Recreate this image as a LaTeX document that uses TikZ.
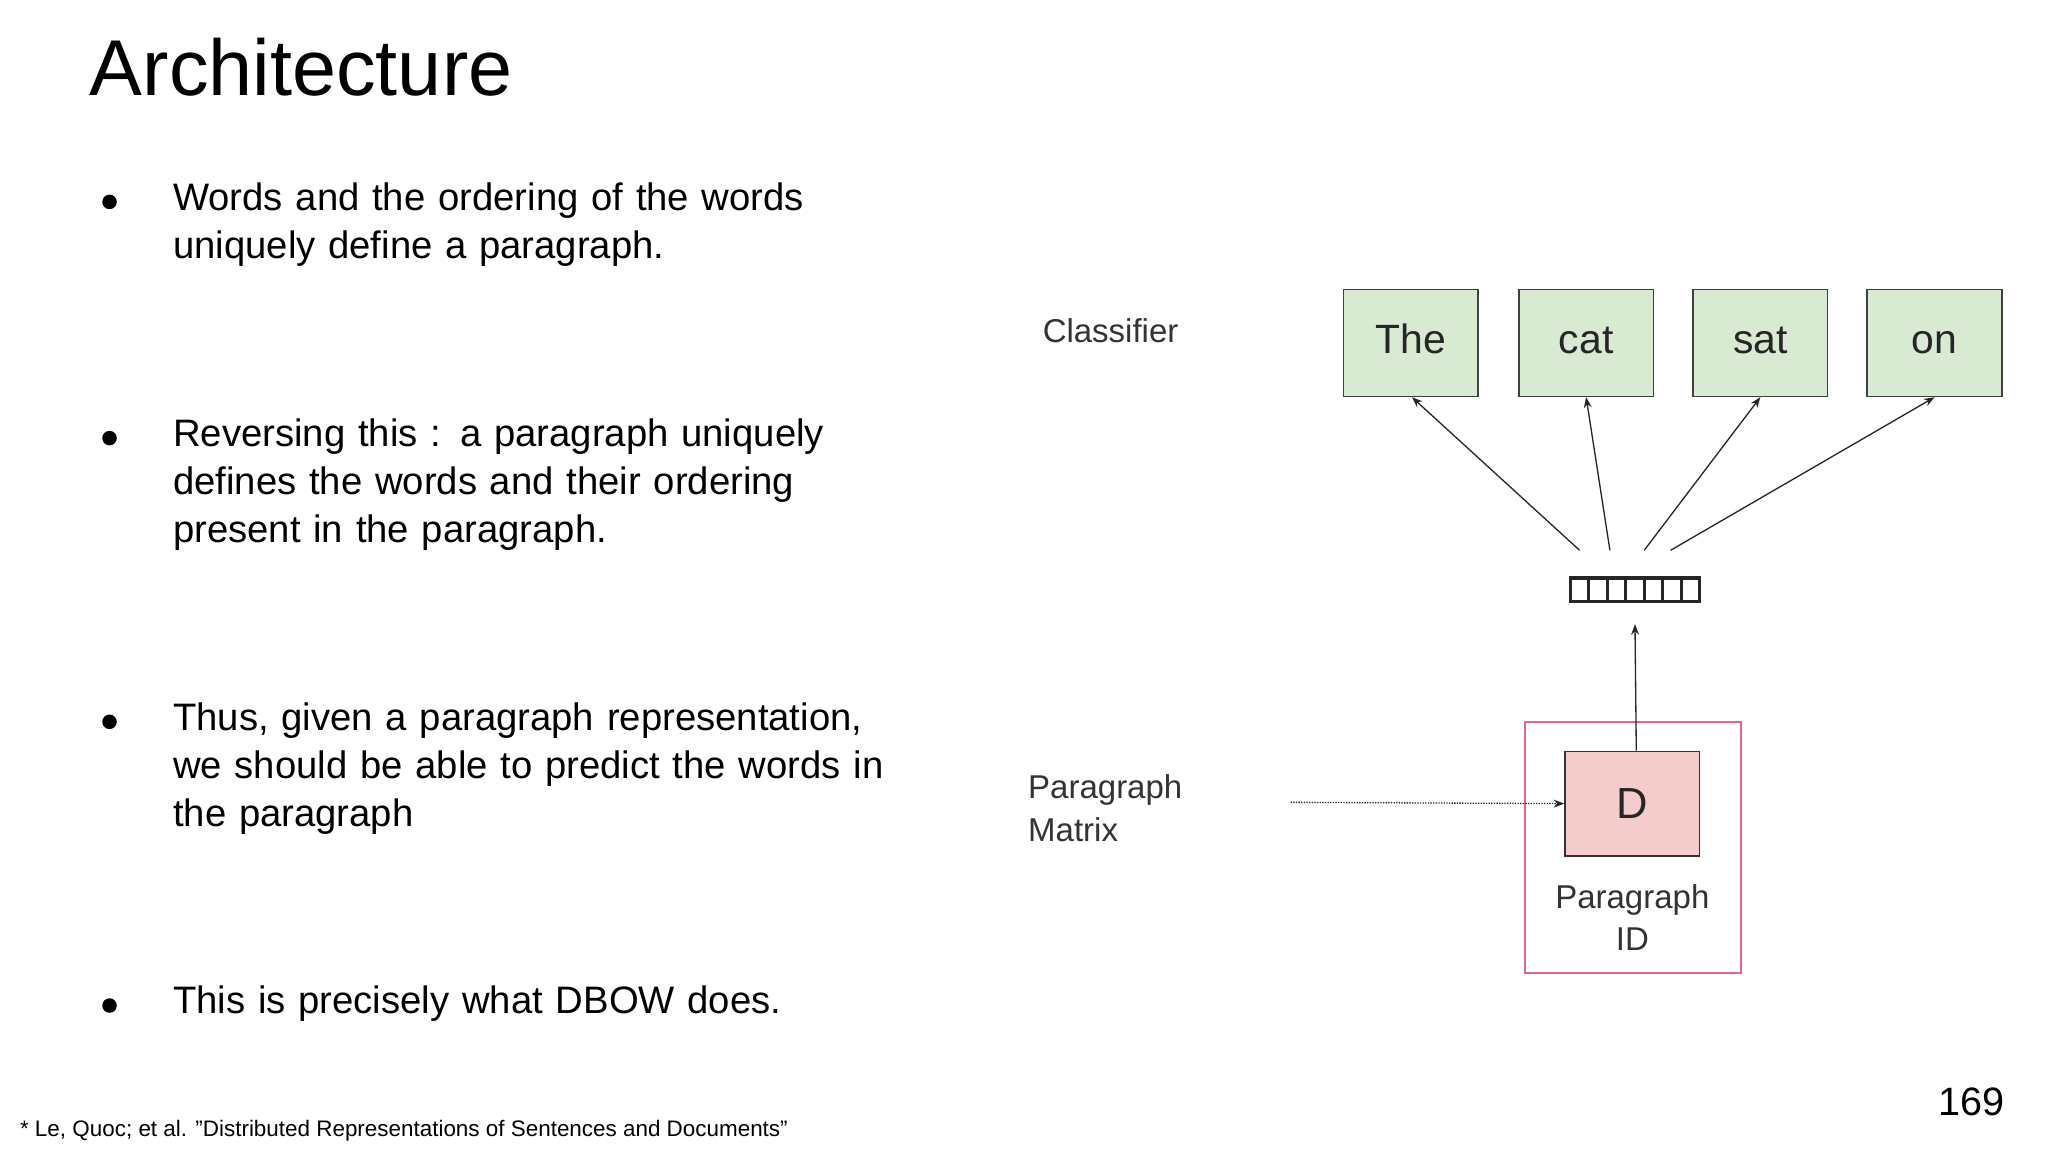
\documentclass[tikz,border=0pt]{standalone}
\usepackage{fontspec}
\setmainfont{Liberation Sans}
\usetikzlibrary{arrows.meta}
\definecolor{gfill}{HTML}{D9EAD3}
\definecolor{pfill}{HTML}{F4CCCC}
\definecolor{pborder}{HTML}{E06690}
\tikzset{
 word/.style={draw=black!75,fill=gfill,line width=1.2pt,minimum width=102pt,minimum height=81pt,font=\fontsize{31}{36}\selectfont,text=black!85,text height=22pt,text depth=6pt},
 lab/.style={font=\fontsize{25}{32}\selectfont,text=black!80,align=left,anchor=north west,inner sep=0},
 bul/.style={font=\fontsize{29}{36.5}\selectfont,align=left,anchor=north west,inner sep=0,text width=600pt},
 arr/.style={-{Stealth[length=8pt,width=6pt]},line width=1pt,black!85}
}
\begin{document}
\begin{tikzpicture}[x=1pt,y=-1pt]
\useasboundingbox[fill=white] (0,0) rectangle (1552,873);
\node[anchor=base west,inner sep=0,font=\fontsize{60}{70}\selectfont] (title) at (68,72) {Architecture};
\foreach \y/\t [count=\i] in {138/{Words and the ordering of the words\\uniquely define a paragraph.},
 317/{Reversing this : a paragraph uniquely\\defines the words and their ordering\\present in the paragraph.},
 532/{Thus, given a paragraph representation,\\we should be able to predict the words in\\the paragraph},
 747/{This is precisely what DBOW does.}}{
 \node[bul] (b\i) at (131,\y) {\t};
 \node[circle,fill=black,inner sep=0,minimum size=11pt] (d\i) at (83,\y+15) {};
}
\node[anchor=base west,inner sep=0,font=\fontsize{17}{20}\selectfont] (foot) at (15,861) {* Le, Quoc; et al. \symbol{34}Distributed Representations of Sentences and Documents\symbol{34}};
\node[anchor=base east,inner sep=0,font=\fontsize{30}{34}\selectfont] (pg) at (1519,845) {169};

\node[lab] (cls) at (790,241) {Classifier};
\node[lab] (pm) at (779,587) {Paragraph\\Matrix};
\node[word] (w1) at (1069,260) {The};
\node[word] (w2) at (1202,260) {cat};
\node[word] (w3) at (1334,260) {sat};
\node[word] (w4) at (1466,260) {on};
\node[draw=pborder,line width=1.5pt,minimum width=163pt,minimum height=190pt] (outer) at (1237.5,642) {};
\node[draw=black!80,fill=pfill,line width=1.2pt,minimum width=102pt,minimum height=79pt,font=\fontsize{33}{36}\selectfont,text=black!85] (D) at (1237,609) {D};
\node[font=\fontsize{25}{32}\selectfont,align=center,text=black!80,anchor=north] (pid) at (1237,667) {Paragraph\\ID};
\node[draw=black!85,line width=2.5pt,minimum width=98pt,minimum height=18pt,inner sep=0] (vec) at (1239,447) {};
\foreach \k in {1,...,6}{\draw[black!85,line width=2.5pt] (1190+\k*14,438) -- (1190+\k*14,456);}
\coordinate (s1) at (1197,417);
\coordinate (s2) at (1220,417);
\coordinate (s3) at (1246,417);
\coordinate (s4) at (1266,417);
\draw[arr] (s1) -- (1070,301);
\draw[arr] (s2) -- (1202,301);
\draw[arr] (s3) -- (1334,301);
\draw[arr] (s4) -- (1466,301);
\draw[arr] (D.north -| vec.south) ++(1,0) coordinate (dn) -- (1239,473);
\coordinate (pmr) at (978,608);
\draw[arr,densely dotted] (pmr) -- (D.west);
\end{tikzpicture}
\end{document}
